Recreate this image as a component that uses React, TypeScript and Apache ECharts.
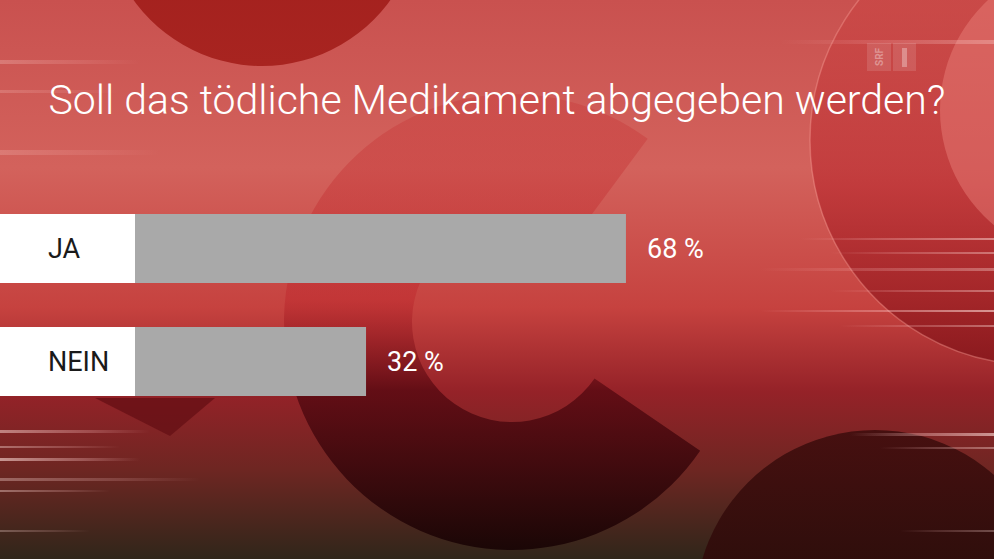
import React, { useEffect, useRef } from "react";
import * as echarts from "echarts";

const titleText = "Soll das tödliche Medikament abgegeben werden?";
const categories = ["JA", "NEIN"];
const shares = [68, 32];
const labelBoxValues = [1, 1];

const W = 994;
const H = 559;

function streak(x: number, y: number, w: number, h: number, alpha: number, fromLeft: boolean) {
  return {
    type: "rect",
    silent: true,
    z: -5,
    shape: { x, y, width: w, height: h },
    style: {
      fill: new echarts.graphic.LinearGradient(fromLeft ? 0 : 1, 0, fromLeft ? 1 : 0, 0, [
        { offset: 0, color: `rgba(255,225,220,${alpha})` },
        { offset: 0.6, color: `rgba(255,200,200,${alpha * 0.5})` },
        { offset: 1, color: "rgba(255,200,200,0)" },
      ]),
    },
  };
}

export default function App() {
  const ref = useRef<HTMLDivElement>(null);
  useEffect(() => {
    if (!ref.current) return;
    const chart = echarts.init(ref.current, undefined, { renderer: "svg" });
    const bg: any[] = [
      {
        type: "rect",
        silent: true,
        z: -20,
        shape: { x: 0, y: 0, width: W, height: H },
        style: {
          fill: new echarts.graphic.LinearGradient(0, 0, 0, 1, [
            { offset: 0, color: "#c9514f" },
            { offset: 0.3, color: "#d3625c" },
            { offset: 0.55, color: "#c6423f" },
            { offset: 0.7, color: "#952228" },
            { offset: 0.84, color: "#6e2622" },
            { offset: 1, color: "#30261a" },
          ]),
        },
      },
      {
        type: "circle",
        silent: true,
        z: -15,
        shape: { cx: 262, cy: -92, r: 158 },
        style: {
          fill: new echarts.graphic.LinearGradient(0, 0, 0, 1, [
            { offset: 0, color: "#9a1a1a" },
            { offset: 1, color: "#a82420" },
          ]),
        },
      },
      {
        type: "circle",
        silent: true,
        z: -15,
        shape: { cx: 1035, cy: 140, r: 225 },
        style: {
          fill: new echarts.graphic.LinearGradient(0, 0, 0, 1, [
            { offset: 0, color: "rgba(210,80,75,0.5)" },
            { offset: 0.6, color: "rgba(185,40,45,0.65)" },
            { offset: 1, color: "rgba(130,20,25,0.8)" },
          ]),
          stroke: "rgba(255,170,160,0.35)",
          lineWidth: 1.5,
        },
      },
      {
        type: "circle",
        silent: true,
        z: -14,
        shape: { cx: 1090, cy: 110, r: 150 },
        style: { fill: "rgba(235,130,125,0.45)" },
      },
      {
        type: "sector",
        silent: true,
        z: -14,
        shape: { cx: 512, cy: 322, r0: 100, r: 228, startAngle: 0.6, endAngle: 5.35, clockwise: true },
        style: {
          fill: new echarts.graphic.LinearGradient(0, 0, 0, 1, [
            { offset: 0, color: "rgba(200,55,55,0.35)" },
            { offset: 0.45, color: "rgba(190,40,45,0.5)" },
            { offset: 0.65, color: "rgba(90,10,18,0.85)" },
            { offset: 1, color: "rgba(25,5,5,0.95)" },
          ]),
        },
      },
      {
        type: "circle",
        silent: true,
        z: -14,
        shape: { cx: 875, cy: 610, r: 180 },
        style: {
          fill: new echarts.graphic.LinearGradient(0, 0, 0, 1, [
            { offset: 0, color: "rgba(60,12,12,0.85)" },
            { offset: 1, color: "rgba(25,8,6,0.95)" },
          ]),
        },
      },
      {
        type: "polygon",
        silent: true,
        z: -14,
        shape: { points: [[95, 398], [215, 398], [170, 436]] },
        style: { fill: "rgba(100,15,20,0.75)" },
      },
      streak(0, 60, 140, 4, 0.25, true),
      streak(0, 90, 120, 3, 0.2, true),
      streak(0, 150, 160, 5, 0.2, true),
      streak(0, 430, 150, 3, 0.5, true),
      streak(0, 446, 120, 2, 0.4, true),
      streak(0, 458, 140, 3, 0.6, true),
      streak(0, 478, 200, 3, 0.35, true),
      streak(0, 490, 110, 2, 0.4, true),
      streak(0, 530, 90, 2, 0.3, true),
      streak(780, 40, 214, 4, 0.3, false),
      streak(800, 238, 194, 2, 0.5, false),
      streak(830, 252, 164, 2, 0.4, false),
      streak(760, 268, 234, 3, 0.35, false),
      streak(830, 290, 164, 2, 0.4, false),
      streak(760, 310, 234, 2, 0.6, false),
      streak(840, 325, 154, 2, 0.4, false),
      streak(850, 433, 144, 3, 0.6, false),
      streak(880, 447, 114, 2, 0.4, false),
      streak(900, 530, 94, 2, 0.3, false),
      // SRF 1 logo (faint)
      {
        type: "rect",
        silent: true,
        z: -4,
        shape: { x: 867, y: 43, width: 24, height: 28 },
        style: { fill: "rgba(255,255,255,0.12)" },
      },
      {
        type: "rect",
        silent: true,
        z: -4,
        shape: { x: 893, y: 43, width: 23, height: 28 },
        style: { fill: "rgba(255,255,255,0.12)" },
      },
      {
        type: "text",
        silent: true,
        z: -3,
        x: 879,
        y: 57,
        rotation: Math.PI / 2,
        style: {
          text: "SRF",
          fill: "rgba(255,255,255,0.35)",
          font: "bold 10px Roboto",
          align: "center",
          verticalAlign: "middle",
        },
      },
      {
        type: "rect",
        silent: true,
        z: -3,
        shape: { x: 902, y: 48, width: 5, height: 19 },
        style: { fill: "rgba(255,255,255,0.3)" },
      },
    ];

    chart.setOption({
      animation: false,
      title: {
        text: titleText,
        left: "center",
        top: 74,
        textStyle: {
          color: "#ffffff",
          fontFamily: "Roboto",
          fontWeight: 300,
          fontSize: 41,
        },
      },
      graphic: bg,
      grid: [
        { left: 0, width: 135, top: 192, height: 226 },
        { left: 135, width: 722, top: 192, height: 226 },
      ],
      xAxis: [
        { gridIndex: 0, type: "value", min: 0, max: 1, show: false },
        { gridIndex: 1, type: "value", min: 0, max: 100, show: false },
      ],
      yAxis: [
        { gridIndex: 0, type: "category", data: categories, inverse: true, show: false },
        { gridIndex: 1, type: "category", data: categories, inverse: true, show: false },
      ],
      series: [
        {
          type: "bar",
          xAxisIndex: 0,
          yAxisIndex: 0,
          data: labelBoxValues,
          barWidth: 69,
          itemStyle: { color: "#ffffff" },
          label: {
            show: true,
            position: "insideLeft",
            distance: 48,
            formatter: "{b}",
            color: "#1a1a1a",
            fontFamily: "Roboto",
            fontSize: 27,
          },
        },
        {
          type: "bar",
          xAxisIndex: 1,
          yAxisIndex: 1,
          data: shares,
          barWidth: 69,
          itemStyle: { color: "#a9a9a9" },
          label: {
            show: true,
            position: "right",
            distance: 21,
            formatter: "{c} %",
            color: "#ffffff",
            fontFamily: "Roboto",
            fontSize: 27,
          },
        },
      ],
    });
    return () => chart.dispose();
  }, []);
  return <div ref={ref} style={{ width: W, height: H, position: "absolute", left: 0, top: 0 }} />;
}
